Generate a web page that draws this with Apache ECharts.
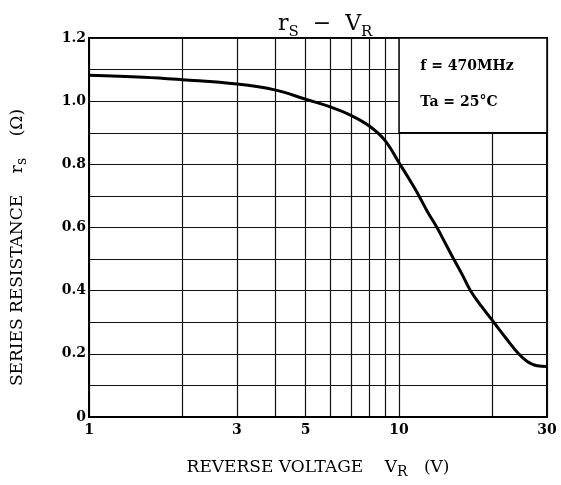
<!DOCTYPE html>
<html>
<head>
<meta charset="utf-8">
<script src="https://cdn.jsdelivr.net/npm/echarts@6/dist/echarts.min.js"></script>
<style>
html, body { margin: 0; padding: 0; background: #fff; }
#chart { width: 561px; height: 485px; }
</style>
</head>
<body>
<div id="chart"></div>
<script>
// reverse voltage (V) and series resistance (ohm)
var voltage = [1, 1.5, 2, 3, 4, 5, 6, 7, 8, 9, 10, 10.8, 11.6, 12.35, 13.25, 14.1, 15, 16.0, 17.0, 18.45, 20.2, 22.1, 24.3, 25.9, 27.9, 30];
var resistance = [1.082, 1.076, 1.068, 1.054, 1.035, 1.006, 0.982, 0.955, 0.922, 0.876, 0.805, 0.752, 0.70, 0.65, 0.60, 0.55, 0.50, 0.45, 0.40, 0.35, 0.30, 0.25, 0.20, 0.176, 0.162, 0.16];

var xGridValues = [1, 2, 3, 4, 5, 6, 7, 8, 9, 10, 20, 30];
var xLabelValues = [1, 3, 5, 10, 30];

var serif = '"DejaVu Serif", "Liberation Serif", serif';

var myChart = echarts.init(document.getElementById('chart'));
var pts = voltage.map(function (v, i) { return [v, resistance[i]]; });

option = {
    animation: false,
    title: {
        text: '{a|r}{s|S}{a|  −  V}{s|R}',
        left: 273,
        top: 0,
        textStyle: {
            fontWeight: 'normal',
            rich: {
                a: { fontFamily: serif, fontSize: 22, fontWeight: 'normal', color: '#000', lineHeight: 30, verticalAlign: 'bottom' },
                s: { fontFamily: serif, fontSize: 15, fontWeight: 'normal', color: '#000', lineHeight: 22, verticalAlign: 'bottom', padding: [0, 0, -5, 0] }
            }
        }
    },
    grid: {
        left: 89,
        right: 14,
        top: 38,
        bottom: 68,
        outerBoundsMode: 'none',
        containLabel: false,
        show: true,
        borderColor: '#000',
        borderWidth: 2,
        backgroundColor: '#fff'
    },
    xAxis: {
        type: 'log',
        logBase: 10,
        min: 1,
        max: 30,
        name: '{n|REVERSE VOLTAGE    V}{s|R}{n|   (V)}',
        nameLocation: 'middle',
        nameGap: 40,
        nameTextStyle: {
            rich: {
                n: { fontFamily: serif, fontSize: 17, color: '#000' },
                s: { fontFamily: serif, fontSize: 14, color: '#000', padding: [8, 0, 0, 0] }
            }
        },
        axisLine: { show: true, lineStyle: { color: '#000', width: 2 } },
        axisTick: { show: false, customValues: xGridValues },
        axisLabel: {
            customValues: xLabelValues,
            margin: 6,
            fontFamily: serif,
            fontWeight: 'bold',
            fontSize: 14,
            color: '#000'
        },
        splitLine: { show: true, lineStyle: { color: '#111', width: 1.2 } },
        minorSplitLine: { show: false }
    },
    yAxis: {
        type: 'value',
        min: 0,
        max: 1.2,
        interval: 0.1,
        name: '{n|SERIES RESISTANCE    r}{s|s}{n|    (Ω)}',
        nameLocation: 'middle',
        nameGap: 60,
        nameTextStyle: {
            padding: [0, 40, 0, 0],
            rich: {
                n: { fontFamily: serif, fontSize: 17, color: '#000' },
                s: { fontFamily: serif, fontSize: 14, color: '#000', padding: [8, 0, 0, 0] }
            }
        },
        axisLine: { show: true, lineStyle: { color: '#000', width: 2 } },
        axisTick: { show: false },
        axisLabel: {
            margin: 3,
            fontFamily: serif,
            fontWeight: 'bold',
            fontSize: 14,
            color: '#000',
            formatter: function (v) {
                var k = Math.round(v * 10);
                if (k % 2 !== 0) return '';
                return k === 0 ? '0' : (k / 10).toFixed(1);
            }
        },
        splitLine: { show: true, lineStyle: { color: '#111', width: 1.2 } }
    },
    series: [{
        type: 'line',
        data: pts,
        smooth: 0.4,
        showSymbol: false,
        lineStyle: { color: '#000', width: 3 },
        markArea: {
            silent: true,
            itemStyle: { color: '#fff', borderColor: '#000', borderWidth: 1.5 },
            label: {
                show: true,
                position: [22, 20],
                formatter: 'f = 470MHz\n\nTa = 25°C',
                fontFamily: serif,
                fontWeight: 'bold',
                fontSize: 14,
                lineHeight: 18,
                color: '#000'
            },
            data: [[{ coord: [10, 1.2] }, { coord: [30, 0.9] }]]
        }
    }]
};
myChart.setOption(option, true);
</script>
</body>
</html>
